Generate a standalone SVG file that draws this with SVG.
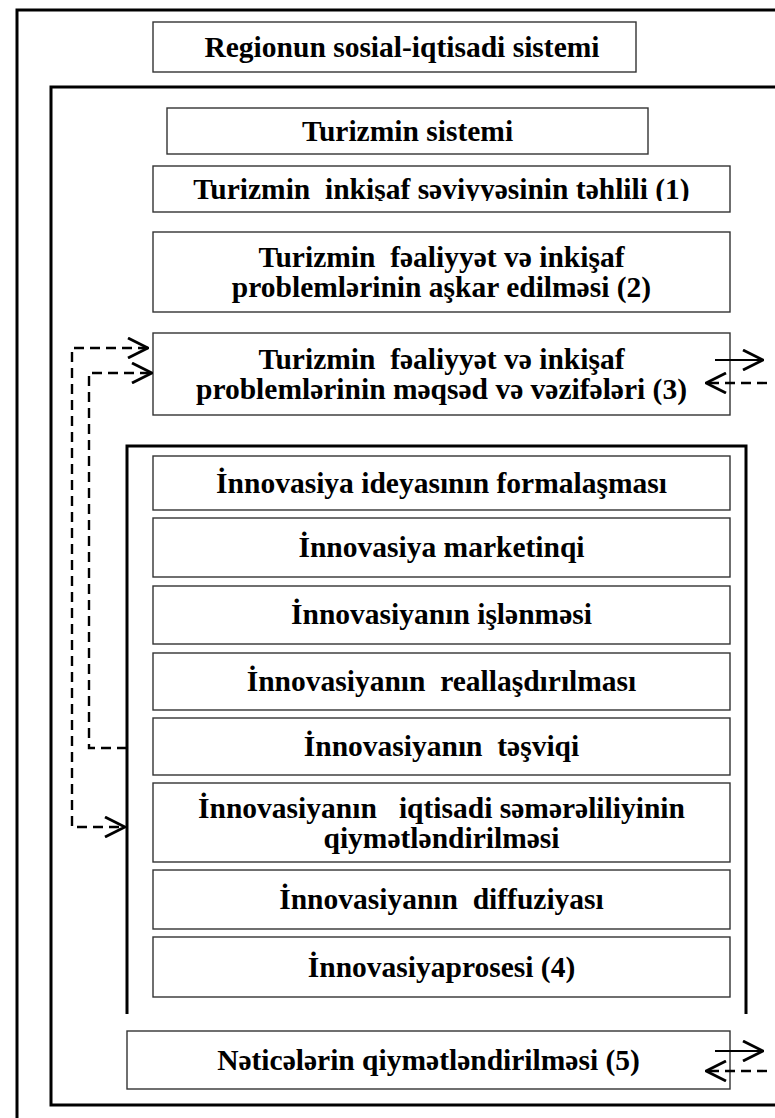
<svg xmlns="http://www.w3.org/2000/svg" width="775" height="1118" viewBox="0 0 775 1118">
<style>
  .frame { fill: none; stroke: #000; stroke-width: 3; }
  .box { fill: #fff; stroke: #333; stroke-width: 1.4; }
  .t { font-family: "Liberation Serif", "Times New Roman", serif; font-weight: bold; font-size: 29.5px; fill: #000; text-anchor: middle; white-space: pre; }
  .solid { fill: none; stroke: #000; stroke-width: 2.2; }
  .dash { fill: none; stroke: #000; stroke-width: 2.4; stroke-dasharray: 10 6; }
</style>
<defs>
  <marker id="arr" viewBox="0 0 22 22" markerUnits="userSpaceOnUse" markerWidth="22" markerHeight="22" refX="21" refY="11" orient="auto-start-reverse">
    <path d="M1,1 L21,11 L1,21" fill="none" stroke="#000" stroke-width="2.8"/>
  </marker>
  <clipPath id="clip1"><rect x="153" y="166" width="577" height="35"/></clipPath>
</defs>

<g id="frames">
  <path class="frame" d="M17,1118 V10 H775"/>
  <path class="frame" d="M775,87 H51 V1105 H775"/>
  <path class="frame" d="M127,1014 V446 H746 V1014"/>
</g>

<g id="n-region">
  <rect class="box" x="153" y="22" width="483" height="50"/>
  <text class="t" x="402" y="57">Regionun sosial-iqtisadi sistemi</text>
</g>
<g id="n-turizm">
  <rect class="box" x="167" y="108" width="481" height="46"/>
  <text class="t" x="407.5" y="141">Turizmin sistemi</text>
</g>
<g id="n1">
  <rect class="box" x="153" y="166" width="577" height="46"/>
  <text class="t" x="441.5" y="199" clip-path="url(#clip1)" xml:space="preserve">Turizmin  inkişaf səviyyəsinin təhlili (1)</text>
</g>
<g id="n2">
  <rect class="box" x="153" y="232" width="577" height="80"/>
  <text class="t" x="441.5" y="267" xml:space="preserve">Turizmin  fəaliyyət və inkişaf</text>
  <text class="t" x="441.5" y="297">problemlərinin aşkar edilməsi (2)</text>
</g>
<g id="n3">
  <rect class="box" x="153" y="333" width="577" height="82"/>
  <text class="t" x="441.5" y="369" xml:space="preserve">Turizmin  fəaliyyət və inkişaf</text>
  <text class="t" x="441.5" y="399">problemlərinin məqsəd və vəzifələri (3)</text>
</g>

<g id="n4-1">
  <rect class="box" x="153" y="456" width="577" height="54"/>
  <text class="t" x="441.5" y="493">İnnovasiya ideyasının formalaşması</text>
</g>
<g id="n4-2">
  <rect class="box" x="153" y="518" width="577" height="59"/>
  <text class="t" x="441.5" y="557">İnnovasiya marketinqi</text>
</g>
<g id="n4-3">
  <rect class="box" x="153" y="586" width="577" height="58"/>
  <text class="t" x="441.5" y="624">İnnovasiyanın işlənməsi</text>
</g>
<g id="n4-4">
  <rect class="box" x="153" y="653" width="577" height="57"/>
  <text class="t" x="441.5" y="691" xml:space="preserve">İnnovasiyanın  reallaşdırılması</text>
</g>
<g id="n4-5">
  <rect class="box" x="153" y="718" width="577" height="57"/>
  <text class="t" x="441.5" y="756" xml:space="preserve">İnnovasiyanın  təşviqi</text>
</g>
<g id="n4-6">
  <rect class="box" x="153" y="783" width="577" height="79"/>
  <text class="t" x="441.5" y="818" xml:space="preserve">İnnovasiyanın   iqtisadi səmərəliliyinin</text>
  <text class="t" x="441.5" y="848">qiymətləndirilməsi</text>
</g>
<g id="n4-7">
  <rect class="box" x="153" y="870" width="577" height="59"/>
  <text class="t" x="441.5" y="909" xml:space="preserve">İnnovasiyanın  diffuziyası</text>
</g>
<g id="n4-8">
  <rect class="box" x="153" y="937" width="577" height="60"/>
  <text class="t" x="441.5" y="977">İnnovasiyaprosesi (4)</text>
</g>
<g id="n5">
  <rect class="box" x="127" y="1031" width="603" height="58"/>
  <text class="t" x="428.5" y="1070">Nəticələrin qiymətləndirilməsi (5)</text>
</g>

<g id="connectors">
  <path class="dash" d="M148,348 H72 V827 H125" marker-start="url(#arr)" marker-end="url(#arr)"/>
  <path class="dash" d="M127,748 H89 V373 H152" marker-end="url(#arr)"/>
  <path class="solid" d="M715,360 H763" marker-end="url(#arr)"/>
  <path class="dash" d="M767,383 H706" marker-end="url(#arr)"/>
  <path class="solid" d="M715,1051 H763" marker-end="url(#arr)"/>
  <path class="dash" d="M767,1071 H706" marker-end="url(#arr)"/>
</g>
</svg>
